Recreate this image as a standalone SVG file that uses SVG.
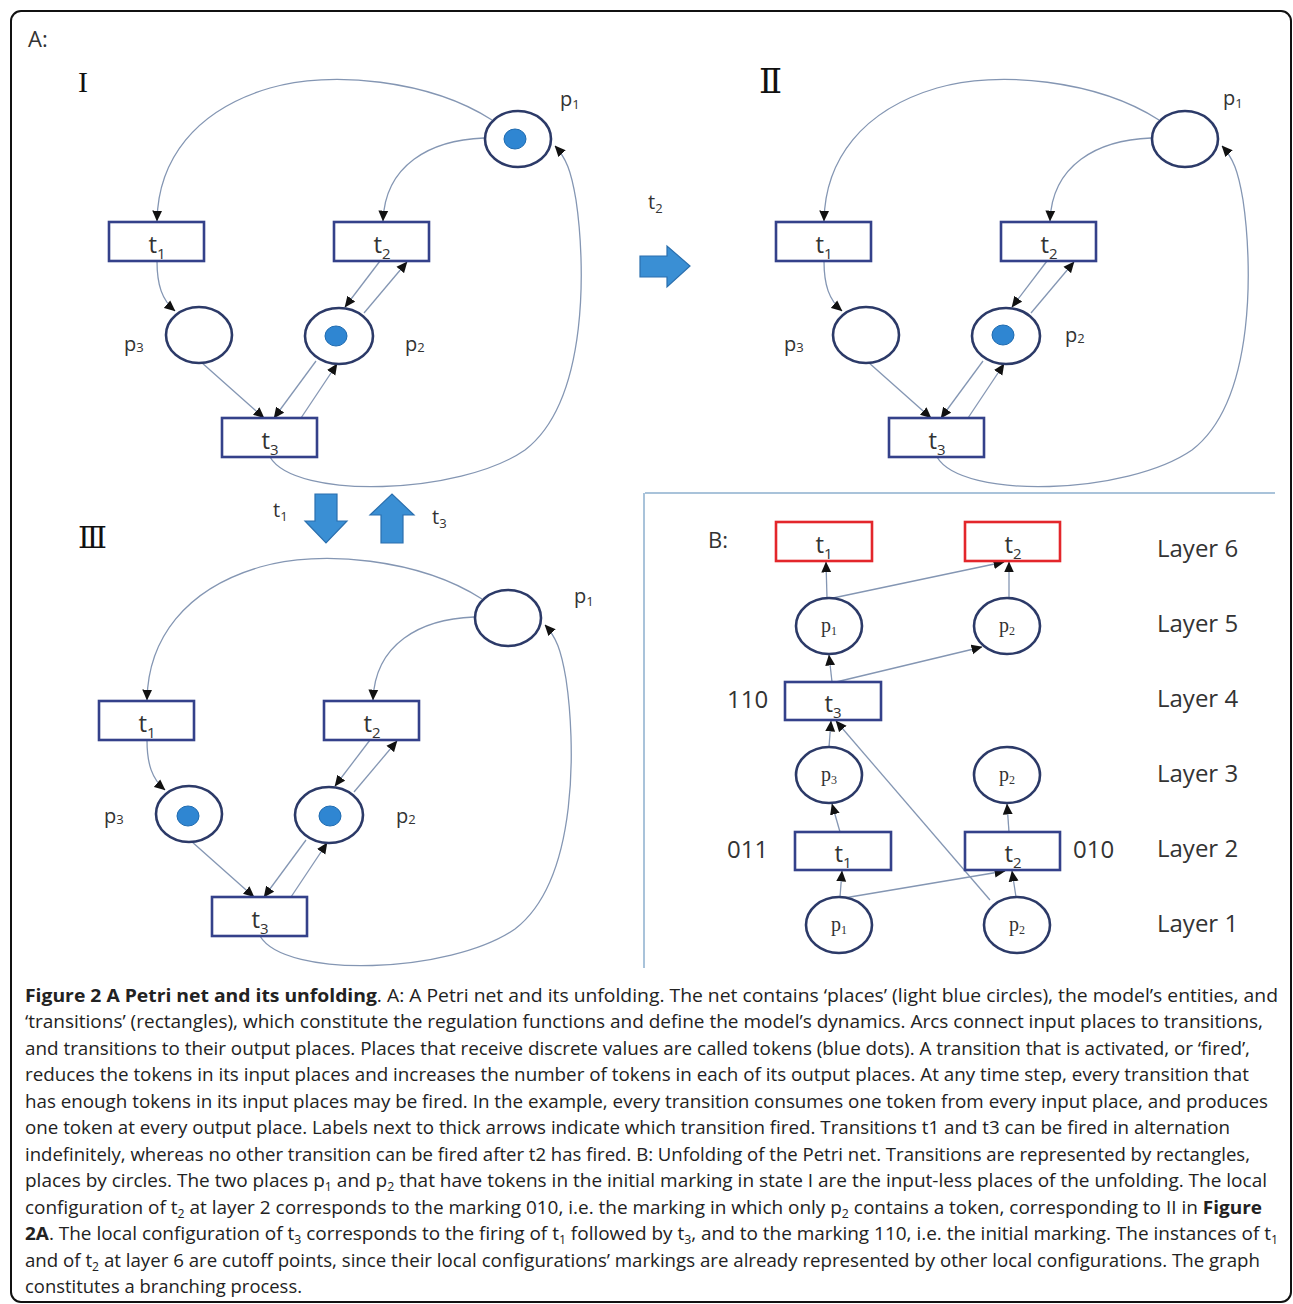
<svg xmlns="http://www.w3.org/2000/svg" width="1293" height="1304" viewBox="0 0 1293 1304">
<style>
  .frame{fill:#fff;stroke:#111;stroke-width:2}
  .place{fill:#fff;stroke:#2c3a68;stroke-width:2.6}
  .trans{fill:#fff;stroke:#34418a;stroke-width:2.6}
  .cut{fill:#fff;stroke:#e3262b;stroke-width:2.6}
  .token{fill:#2f86d2;stroke:#1f6bb0;stroke-width:1}
  .arc{fill:none;stroke:#8496b3;stroke-width:1.3}
  .lbl{font-family:"Open Sans","DejaVu Sans",sans-serif;fill:#333}
  .tl{font-family:"Open Sans","DejaVu Sans",sans-serif;font-size:24px;fill:#333;text-anchor:middle}
  .pl{font-family:"Open Sans","DejaVu Sans",sans-serif;font-size:20px;fill:#333}
  .pb{font-family:"Liberation Serif","DejaVu Serif",serif;font-size:20px;fill:#333;text-anchor:middle}
  .roman{font-family:"Liberation Serif","DejaVu Serif",serif;fill:#111}
  .big{fill:#3a8fd4;stroke:#2a6fae;stroke-width:1.2}
  .sep{stroke:#a9c3da;stroke-width:2;fill:none}
  .cap{font-family:"Open Sans","DejaVu Sans",sans-serif;font-size:18.5px;fill:#222}
  .layer{font-family:"Open Sans","DejaVu Sans",sans-serif;font-size:24px;fill:#333}
</style>
<defs>
  <marker id="ah" viewBox="0 0 10 10" refX="9.5" refY="5" markerWidth="11" markerHeight="11" markerUnits="userSpaceOnUse" orient="auto">
    <path d="M0,0.5 L10,5 L0,9.5 z" fill="#111"/>
  </marker>
</defs>
<rect class="frame" x="11" y="11" width="1280" height="1291" rx="10"/>
<text class="lbl" x="28" y="47" font-size="22">A:</text>

<!-- Panel I -->
<g id="panel-I">
  <text class="roman" x="78" y="92" font-size="30">I</text>
  <g id="I-connectors">
    <path class="arc" marker-end="url(#ah)" d="M492,120 C430,80 330,70 270,88 C195,110 158,160 157,221"/>
    <path class="arc" marker-end="url(#ah)" d="M484,138 C430,140 385,165 383,221"/>
    <path class="arc" marker-end="url(#ah)" d="M270,457 C295,500 460,495 525,450 C590,400 585,260 576,200 C571,170 566,158 555,146"/>
    <path class="arc" marker-end="url(#ah)" d="M157,261 C157,285 162,300 175,311"/>
    <path class="arc" marker-end="url(#ah)" d="M201,362 L264,418"/>
    <path class="arc" marker-end="url(#ah)" d="M380,261 L345,307"/>
    <path class="arc" marker-end="url(#ah)" d="M364,313 L407,262"/>
    <path class="arc" marker-end="url(#ah)" d="M316,361 L274,418"/>
    <path class="arc" marker-end="url(#ah)" d="M301,418 L337,364"/>
  </g>
  <g id="I-p1"><ellipse class="place" cx="518" cy="139" rx="33" ry="28"/><ellipse class="token" cx="515" cy="139" rx="11" ry="10"/><text class="pl" x="560" y="106">p<tspan font-size="13" dy="3">1</tspan></text></g>
  <g id="I-t1"><rect class="trans" x="109" y="222" width="95" height="39"/><text class="tl" x="157" y="253">t<tspan font-size="15" dy="6">1</tspan></text></g>
  <g id="I-t2"><rect class="trans" x="334" y="222" width="95" height="39"/><text class="tl" x="382" y="253">t<tspan font-size="15" dy="6">2</tspan></text></g>
  <g id="I-p3"><ellipse class="place" cx="199" cy="335" rx="33" ry="28"/><text class="pl" x="124" y="351">p<tspan font-size="13" dy="1">3</tspan></text></g>
  <g id="I-p2"><ellipse class="place" cx="339" cy="336" rx="34" ry="28"/><ellipse class="token" cx="336" cy="336" rx="11" ry="10"/><text class="pl" x="405" y="351">p<tspan font-size="13" dy="1">2</tspan></text></g>
  <g id="I-t3"><rect class="trans" x="222" y="418" width="95" height="39"/><text class="tl" x="270" y="449">t<tspan font-size="15" dy="6">3</tspan></text></g>
</g>

<!-- transition arrows -->
<g id="fire-t2">
  <polygon class="big" points="640,256 667,256 667,246 690,266 667,287 667,277 640,277"/>
  <text class="pl" x="648" y="209">t<tspan font-size="13" dy="4">2</tspan></text>
</g>
<g id="fire-t1">
  <polygon class="big" points="315,494 337,494 337,521 347,521 326,543 305,521 315,521"/>
  <text class="pl" x="273" y="517">t<tspan font-size="13" dy="4">1</tspan></text>
</g>
<g id="fire-t3">
  <polygon class="big" points="381,543 403,543 403,515 414,515 392,494 370,515 381,515"/>
  <text class="pl" x="432" y="524">t<tspan font-size="13" dy="4">3</tspan></text>
</g>

<!-- Panel II -->
<g id="panel-II" transform="translate(667,0)">
  <text class="roman" x="92" y="93" font-size="34">Ⅱ</text>
  <g id="II-connectors">
    <path class="arc" marker-end="url(#ah)" d="M492,120 C430,80 330,70 270,88 C195,110 158,160 157,221"/>
    <path class="arc" marker-end="url(#ah)" d="M484,138 C430,140 385,165 383,221"/>
    <path class="arc" marker-end="url(#ah)" d="M270,457 C295,500 460,495 525,450 C590,400 585,260 576,200 C571,170 566,158 555,146"/>
    <path class="arc" marker-end="url(#ah)" d="M157,261 C157,285 162,300 175,311"/>
    <path class="arc" marker-end="url(#ah)" d="M201,362 L264,418"/>
    <path class="arc" marker-end="url(#ah)" d="M380,261 L345,307"/>
    <path class="arc" marker-end="url(#ah)" d="M364,313 L407,262"/>
    <path class="arc" marker-end="url(#ah)" d="M316,361 L274,418"/>
    <path class="arc" marker-end="url(#ah)" d="M301,418 L337,364"/>
  </g>
  <g id="II-p1"><ellipse class="place" cx="518" cy="139" rx="33" ry="28"/><text class="pl" x="556" y="105">p<tspan font-size="13" dy="3">1</tspan></text></g>
  <g id="II-t1"><rect class="trans" x="109" y="222" width="95" height="39"/><text class="tl" x="157" y="253">t<tspan font-size="15" dy="6">1</tspan></text></g>
  <g id="II-t2"><rect class="trans" x="334" y="222" width="95" height="39"/><text class="tl" x="382" y="253">t<tspan font-size="15" dy="6">2</tspan></text></g>
  <g id="II-p3"><ellipse class="place" cx="199" cy="335" rx="33" ry="28"/><text class="pl" x="117" y="351">p<tspan font-size="13" dy="1">3</tspan></text></g>
  <g id="II-p2"><ellipse class="place" cx="339" cy="336" rx="34" ry="28"/><ellipse class="token" cx="336" cy="335" rx="11" ry="10"/><text class="pl" x="398" y="342">p<tspan font-size="13" dy="1">2</tspan></text></g>
  <g id="II-t3"><rect class="trans" x="222" y="418" width="95" height="39"/><text class="tl" x="270" y="449">t<tspan font-size="15" dy="6">3</tspan></text></g>
</g>

<!-- Panel III -->
<g id="panel-III" transform="translate(-10,479)">
  <text class="roman" x="88" y="69" font-size="30">Ⅲ</text>
  <g id="III-connectors">
    <path class="arc" marker-end="url(#ah)" d="M492,120 C430,80 330,70 270,88 C195,110 158,160 157,221"/>
    <path class="arc" marker-end="url(#ah)" d="M484,138 C430,140 385,165 383,221"/>
    <path class="arc" marker-end="url(#ah)" d="M270,457 C295,500 460,495 525,450 C590,400 585,260 576,200 C571,170 566,158 555,146"/>
    <path class="arc" marker-end="url(#ah)" d="M157,261 C157,285 162,300 175,311"/>
    <path class="arc" marker-end="url(#ah)" d="M201,362 L264,418"/>
    <path class="arc" marker-end="url(#ah)" d="M380,261 L345,307"/>
    <path class="arc" marker-end="url(#ah)" d="M364,313 L407,262"/>
    <path class="arc" marker-end="url(#ah)" d="M316,361 L274,418"/>
    <path class="arc" marker-end="url(#ah)" d="M301,418 L337,364"/>
  </g>
  <g id="III-p1"><ellipse class="place" cx="518" cy="139" rx="33" ry="28"/><text class="pl" x="584" y="124">p<tspan font-size="13" dy="3">1</tspan></text></g>
  <g id="III-t1"><rect class="trans" x="109" y="222" width="95" height="39"/><text class="tl" x="157" y="253">t<tspan font-size="15" dy="6">1</tspan></text></g>
  <g id="III-t2"><rect class="trans" x="334" y="222" width="95" height="39"/><text class="tl" x="382" y="253">t<tspan font-size="15" dy="6">2</tspan></text></g>
  <g id="III-p3"><ellipse class="place" cx="199" cy="335" rx="33" ry="28"/><ellipse class="token" cx="198" cy="337" rx="11" ry="10"/><text class="pl" x="114" y="344">p<tspan font-size="13" dy="1">3</tspan></text></g>
  <g id="III-p2"><ellipse class="place" cx="339" cy="336" rx="34" ry="28"/><ellipse class="token" cx="340" cy="337" rx="11" ry="10"/><text class="pl" x="406" y="344">p<tspan font-size="13" dy="1">2</tspan></text></g>
  <g id="III-t3"><rect class="trans" x="222" y="418" width="95" height="39"/><text class="tl" x="270" y="449">t<tspan font-size="15" dy="6">3</tspan></text></g>
</g>

<!-- Panel B -->
<g id="panel-B">
  <path class="sep" d="M645,493 L1275,493 M644,493 L644,968"/>
  <text class="lbl" x="708" y="548" font-size="22">B:</text>
  <g id="B-connectors">
    <path class="arc" marker-end="url(#ah)" d="M840,897 L842,871"/>
    <path class="arc" marker-end="url(#ah)" d="M844,898 L1005,871"/>
    <path class="arc" marker-end="url(#ah)" d="M1016,897 L1012,871"/>
    <path class="arc" marker-end="url(#ah)" d="M990,900 L836,721"/>
    <path class="arc" marker-end="url(#ah)" d="M840,832 L832,804"/>
    <path class="arc" marker-end="url(#ah)" d="M1009,832 L1007,804"/>
    <path class="arc" marker-end="url(#ah)" d="M829,747 L831,721"/>
    <path class="arc" marker-end="url(#ah)" d="M832,682 L829,655"/>
    <path class="arc" marker-end="url(#ah)" d="M836,682 L982,647"/>
    <path class="arc" marker-end="url(#ah)" d="M827,598 L826,562"/>
    <path class="arc" marker-end="url(#ah)" d="M833,598 L1004,562"/>
    <path class="arc" marker-end="url(#ah)" d="M1009,598 L1009,562"/>
  </g>
  <g id="B-L6-t1"><rect class="cut" x="776" y="522" width="96" height="39"/><text class="tl" x="824" y="553">t<tspan font-size="15" dy="6">1</tspan></text></g>
  <g id="B-L6-t2"><rect class="cut" x="965" y="522" width="95" height="39"/><text class="tl" x="1013" y="553">t<tspan font-size="15" dy="6">2</tspan></text></g>
  <g id="B-L5-p1"><ellipse class="place" cx="829" cy="626" rx="33" ry="28"/><text class="pb" x="829" y="632">p<tspan font-size="12" dy="3">1</tspan></text></g>
  <g id="B-L5-p2"><ellipse class="place" cx="1007" cy="626" rx="33" ry="28"/><text class="pb" x="1007" y="632">p<tspan font-size="12" dy="3">2</tspan></text></g>
  <g id="B-L4-t3"><rect class="trans" x="785" y="682" width="96" height="38"/><text class="tl" x="833" y="712">t<tspan font-size="15" dy="6">3</tspan></text><text class="lbl" x="727" y="708" font-size="24">110</text></g>
  <g id="B-L3-p3"><ellipse class="place" cx="829" cy="775" rx="33" ry="28"/><text class="pb" x="829" y="781">p<tspan font-size="12" dy="3">3</tspan></text></g>
  <g id="B-L3-p2"><ellipse class="place" cx="1007" cy="775" rx="33" ry="28"/><text class="pb" x="1007" y="781">p<tspan font-size="12" dy="3">2</tspan></text></g>
  <g id="B-L2-t1"><rect class="trans" x="795" y="832" width="96" height="38"/><text class="tl" x="843" y="862">t<tspan font-size="15" dy="6">1</tspan></text><text class="lbl" x="727" y="858" font-size="24">011</text></g>
  <g id="B-L2-t2"><rect class="trans" x="965" y="832" width="95" height="38"/><text class="tl" x="1013" y="862">t<tspan font-size="15" dy="6">2</tspan></text><text class="lbl" x="1073" y="858" font-size="24">010</text></g>
  <g id="B-L1-p1"><ellipse class="place" cx="839" cy="925" rx="33" ry="28"/><text class="pb" x="839" y="931">p<tspan font-size="12" dy="3">1</tspan></text></g>
  <g id="B-L1-p2"><ellipse class="place" cx="1017" cy="925" rx="33" ry="28"/><text class="pb" x="1017" y="931">p<tspan font-size="12" dy="3">2</tspan></text></g>
  <g id="B-layers">
    <text class="layer" x="1157" y="557">Layer 6</text>
    <text class="layer" x="1157" y="632">Layer 5</text>
    <text class="layer" x="1157" y="707">Layer 4</text>
    <text class="layer" x="1157" y="782">Layer 3</text>
    <text class="layer" x="1157" y="857">Layer 2</text>
    <text class="layer" x="1157" y="932">Layer 1</text>
  </g>
</g>

<!-- Caption -->
<g id="caption">
  <text class="cap" x="25" y="1002" textLength="1253" lengthAdjust="spacingAndGlyphs"><tspan font-weight="bold">Figure 2 A Petri net and its unfolding</tspan>. A: A Petri net and its unfolding. The net contains ‘places’ (light blue circles), the model’s entities, and</text>
  <text class="cap" x="25" y="1028" textLength="1238" lengthAdjust="spacingAndGlyphs">‘transitions’ (rectangles), which constitute the regulation functions and define the model’s dynamics. Arcs connect input places to transitions,</text>
  <text class="cap" x="25" y="1055" textLength="1225" lengthAdjust="spacingAndGlyphs">and transitions to their output places. Places that receive discrete values are called tokens (blue dots). A transition that is activated, or ‘fired’,</text>
  <text class="cap" x="25" y="1081" textLength="1224" lengthAdjust="spacingAndGlyphs">reduces the tokens in its input places and increases the number of tokens in each of its output places. At any time step, every transition that</text>
  <text class="cap" x="25" y="1108" textLength="1243" lengthAdjust="spacingAndGlyphs">has enough tokens in its input places may be fired. In the example, every transition consumes one token from every input place, and produces</text>
  <text class="cap" x="25" y="1134" textLength="1205" lengthAdjust="spacingAndGlyphs">one token at every output place. Labels next to thick arrows indicate which transition fired. Transitions t1 and t3 can be fired in alternation</text>
  <text class="cap" x="25" y="1161" textLength="1225" lengthAdjust="spacingAndGlyphs">indefinitely, whereas no other transition can be fired after t2 has fired. B: Unfolding of the Petri net. Transitions are represented by rectangles,</text>
  <text class="cap" x="25" y="1187" textLength="1242" lengthAdjust="spacingAndGlyphs">places by circles. The two places p<tspan font-size="12" dy="4">1</tspan><tspan dy="-4"> and p</tspan><tspan font-size="12" dy="4">2</tspan><tspan dy="-4"> that have tokens in the initial marking in state I are the input-less places of the unfolding. The local</tspan></text>
  <text class="cap" x="25" y="1214" textLength="1237" lengthAdjust="spacingAndGlyphs">configuration of t<tspan font-size="12" dy="4">2</tspan><tspan dy="-4"> at layer 2 corresponds to the marking 010, i.e. the marking in which only p</tspan><tspan font-size="12" dy="4">2</tspan><tspan dy="-4"> contains a token, corresponding to II in </tspan><tspan font-weight="bold">Figure</tspan></text>
  <text class="cap" x="25" y="1240" textLength="1253" lengthAdjust="spacingAndGlyphs"><tspan font-weight="bold">2A</tspan>. The local configuration of t<tspan font-size="12" dy="4">3</tspan><tspan dy="-4"> corresponds to the firing of t</tspan><tspan font-size="12" dy="4">1</tspan><tspan dy="-4"> followed by t</tspan><tspan font-size="12" dy="4">3</tspan><tspan dy="-4">, and to the marking 110, i.e. the initial marking. The instances of t</tspan><tspan font-size="12" dy="4">1</tspan></text>
  <text class="cap" x="25" y="1267" textLength="1235" lengthAdjust="spacingAndGlyphs">and of t<tspan font-size="12" dy="4">2</tspan><tspan dy="-4"> at layer 6 are cutoff points, since their local configurations’ markings are already represented by other local configurations. The graph</tspan></text>
  <text class="cap" x="25" y="1293" textLength="277" lengthAdjust="spacingAndGlyphs">constitutes a branching process.</text>
</g>
</svg>
